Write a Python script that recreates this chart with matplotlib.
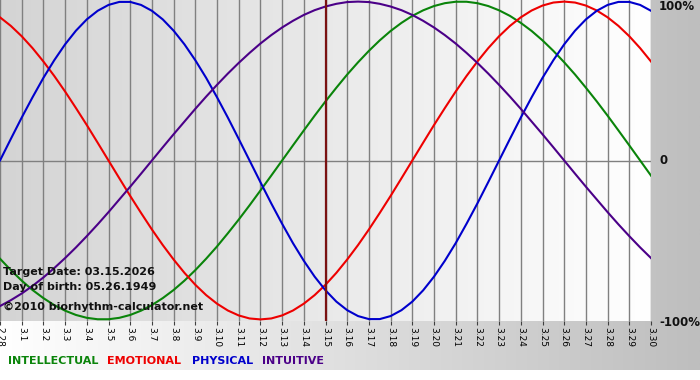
"""Biorhythm chart: four cycles around the target date"""
import numpy as np
import matplotlib
matplotlib.use("Agg")
import matplotlib.pyplot as plt
from matplotlib.colors import LinearSegmentedColormap

# day labels along the x axis (2.28 .. 3.30)
days = ["2.28"] + [f"3.{d}" for d in range(1, 31)]
target_day = "3.15"

# cycle values, every half day from 2.28 to 3.30 (-1 .. 1)
physical = [0.000, 0.136, 0.270, 0.398, 0.520, 0.631, 0.731, 0.817, 0.888, 0.942,
            0.979, 0.998, 0.998, 0.979, 0.942, 0.888, 0.817, 0.731, 0.631, 0.520,
            0.398, 0.270, 0.136, 0.000, -0.136, -0.270, -0.398, -0.520, -0.631, -0.731,
            -0.817, -0.888, -0.942, -0.979, -0.998, -0.998, -0.979, -0.942, -0.888, -0.817,
            -0.731, -0.631, -0.520, -0.398, -0.270, -0.136, 0.000, 0.136, 0.270, 0.398,
            0.520, 0.631, 0.731, 0.817, 0.888, 0.942, 0.979, 0.998, 0.998, 0.979, 0.942]
emotional = [0.901, 0.847, 0.782, 0.707, 0.623, 0.532, 0.434, 0.330, 0.223, 0.112,
             0.000, -0.112, -0.223, -0.330, -0.434, -0.532, -0.623, -0.707, -0.782, -0.847,
             -0.901, -0.944, -0.975, -0.994, -1.000, -0.994, -0.975, -0.944, -0.901, -0.847,
             -0.782, -0.707, -0.623, -0.532, -0.434, -0.330, -0.223, -0.112, 0.000, 0.112,
             0.223, 0.330, 0.434, 0.532, 0.623, 0.707, 0.782, 0.847, 0.901, 0.944,
             0.975, 0.994, 1.000, 0.994, 0.975, 0.944, 0.901, 0.847, 0.782, 0.707, 0.623]
intellectual = [-0.618, -0.690, -0.756, -0.815, -0.866, -0.910, -0.945, -0.972, -0.990, -0.999,
                -0.999, -0.990, -0.972, -0.945, -0.910, -0.866, -0.815, -0.756, -0.690, -0.618,
                -0.541, -0.458, -0.372, -0.282, -0.189, -0.095, 0.000, 0.095, 0.189, 0.282,
                0.372, 0.458, 0.541, 0.618, 0.690, 0.756, 0.815, 0.866, 0.910, 0.945,
                0.972, 0.990, 0.999, 0.999, 0.990, 0.972, 0.945, 0.910, 0.866, 0.815,
                0.756, 0.690, 0.618, 0.541, 0.458, 0.372, 0.282, 0.189, 0.095, 0.000, -0.095]
intuitive = [-0.916, -0.879, -0.837, -0.789, -0.736, -0.677, -0.614, -0.547, -0.476, -0.402,
             -0.325, -0.245, -0.165, -0.083, 0.000, 0.083, 0.165, 0.245, 0.325, 0.402,
             0.476, 0.547, 0.614, 0.677, 0.736, 0.789, 0.837, 0.879, 0.916, 0.946,
             0.969, 0.986, 0.997, 1.000, 0.997, 0.986, 0.969, 0.946, 0.916, 0.879,
             0.837, 0.789, 0.736, 0.677, 0.614, 0.547, 0.476, 0.402, 0.325, 0.245,
             0.165, 0.083, 0.000, -0.083, -0.165, -0.245, -0.325, -0.402, -0.476, -0.547, -0.614]

series = [
    ("INTELLECTUAL", intellectual, "#0a840a"),
    ("EMOTIONAL", emotional, "#ee0000"),
    ("PHYSICAL", physical, "#0000cc"),
    ("INTUITIVE", intuitive, "#4b0088"),
]

W, H = 700, 380
fig = plt.figure(figsize=(W / 100, H / 100), dpi=100)
fig.patch.set_facecolor("white")

# outer grey band, white on the left fading to grey on the right
bg = fig.add_axes([0, 10 / H, 1, 370 / H])
bg_cmap = LinearSegmentedColormap.from_list("bg", ["#ffffff", "#bebebe"])
bg.imshow(np.linspace(0, 1, 256)[None, :], aspect="auto", cmap=bg_cmap,
          extent=[0, 1, 0, 1])
bg.axis("off")

# plot area
ax = fig.add_axes([0, 59 / H, 651 / W, 321 / H])
x = np.arange(len(days))
ylo, yhi = -1.01, 1.01
area_cmap = LinearSegmentedColormap.from_list("area", ["#d4d4d4", "#ffffff"])
ax.imshow(np.linspace(0, 1, 256)[None, :], aspect="auto", cmap=area_cmap,
          extent=[0, len(days) - 1, ylo, yhi], zorder=0)
ax.set_xlim(0, len(days) - 1)
ax.set_ylim(ylo, yhi)

ax.set_xticks(x)
ax.set_xticklabels(days, rotation=270, fontsize=6.5, ha="center", va="top")
ax.tick_params(axis="x", length=3, width=0.8, color="#404040", pad=1)
ax.set_yticks([])
ax.grid(axis="x", color="#808080", lw=1)
ax.axhline(0, color="#808080", lw=1, zorder=1)
for s in ax.spines.values():
    s.set_visible(False)

for name, vals, col in series:
    t = np.linspace(0, len(days) - 1, len(vals))
    ax.plot(t, vals, color=col, lw=1.5, zorder=3)

ax.axvline(days.index(target_day), color="#7a1212", lw=1.6, zorder=4)

# right side percent labels
tr = ax.get_yaxis_transform()
ax.text(1 + 8 / 651, yhi, "100%", transform=tr, fontsize=8.5,
        fontweight="bold", color="#111111", ha="left", va="top")
ax.text(1 + 8 / 651, 0, "0", transform=tr, fontsize=8.5,
        fontweight="bold", color="#111111", ha="left", va="center")
ax.text(1 + 8 / 651, -1.02, "-100%", transform=tr, fontsize=8.5,
        fontweight="bold", color="#111111", ha="left", va="center")

# info text inside the plot
info = [("Target Date: 03.15.2026", 272), ("Day of birth: 05.26.1949", 287),
        ("\u00a92010 biorhythm-calculator.net", 307)]
for txt, ypx in info:
    fig.text(3 / W, 1 - ypx / H, txt, fontsize=8, fontweight="bold",
             color="#111111", ha="left", va="center")

# coloured legend words
legend_x = [8, 107, 192, 262]
for (name, vals, col), xpx in zip(series, legend_x):
    fig.text(xpx / W, 1 - 361 / H, name, fontsize=8, fontweight="bold",
             color=col, ha="left", va="center")

fig.savefig("out.png", dpi=100)
